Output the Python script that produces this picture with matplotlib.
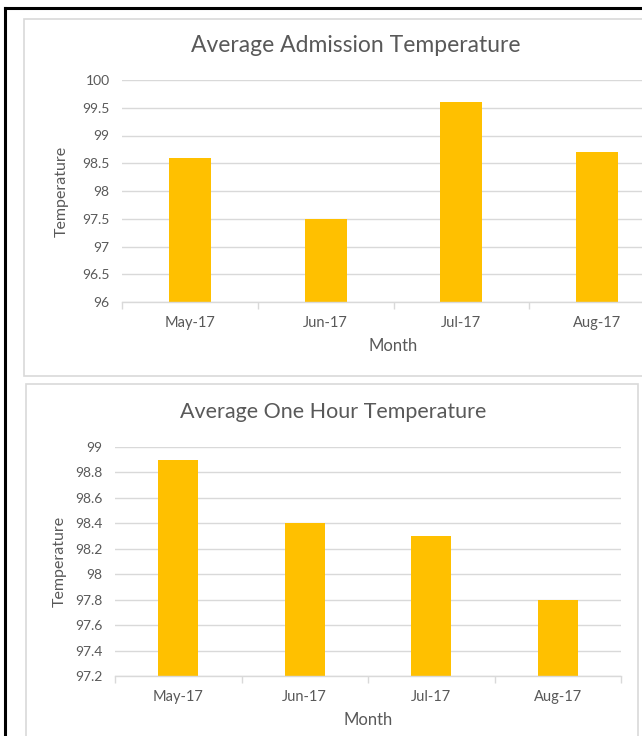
import matplotlib.pyplot as plt
from matplotlib.patches import Rectangle
from matplotlib.lines import Line2D

# data
months = ['May-17', 'Jun-17', 'Jul-17', 'Aug-17']
admission_temp = [98.6, 97.5, 99.6, 98.7]
one_hour_temp = [98.9, 98.4, 98.3, 97.8]
admission_ticks = [96, 96.5, 97, 97.5, 98, 98.5, 99, 99.5, 100]
one_hour_ticks = [97.2, 97.4, 97.6, 97.8, 98, 98.2, 98.4, 98.6, 98.8, 99]

W, H = 642, 736
BAR = '#FFC000'
GRID = '#D9D9D9'
TXT = '#595959'

plt.rcParams['font.family'] = ['Lato', 'DejaVu Sans']

fig = plt.figure(figsize=(W / 100, H / 100), dpi=100)


def px_box(x0, y0, x1, y1):
    # pixel box (top-left origin) -> figure fraction rect
    return [x0 / W, 1 - y1 / H, (x1 - x0) / W, (y1 - y0) / H]


# screenshot frame: black lines at top and left
fig.add_artist(Line2D([5 / W, 1], [1 - 8 / H, 1 - 8 / H], color='black', lw=2.2))
fig.add_artist(Line2D([5 / W, 5 / W], [0, 1 - 8 / H], color='black', lw=2.2))

# chart panels, kept behind the axes
fig.add_artist(Rectangle((24 / W, 1 - 376 / H), (700 - 24) / W, (376 - 19) / H,
                         transform=fig.transFigure, facecolor='white',
                         edgecolor=GRID, lw=1.2, zorder=-5))
fig.add_artist(Rectangle((26 / W, 1 - 760 / H), (638 - 26) / W, (760 - 384) / H,
                         transform=fig.transFigure, facecolor='white',
                         edgecolor=GRID, lw=1.2, zorder=-5))


def draw(ax, values, yticks, title, title_xy, title_size, ylab_xy, xlab_xy, width):
    x = range(len(months))
    ax.bar(x, values, width=width, color=BAR, zorder=2)
    ax.set_xlim(-0.5, len(months) - 0.5)
    ax.set_ylim(yticks[0], yticks[-1])
    ax.set_yticks(yticks)
    ax.set_yticklabels([f'{t:g}' for t in yticks])
    ax.set_xticks(list(x))
    ax.set_xticklabels(months)
    ax.set_xticks([i - 0.5 for i in range(len(months) + 1)], minor=True)
    ax.grid(axis='y', color=GRID, lw=1.0, zorder=0)
    for s in ['top', 'right', 'left']:
        ax.spines[s].set_visible(False)
    ax.spines['bottom'].set_color(GRID)
    ax.spines['bottom'].set_linewidth(1.0)
    ax.tick_params(axis='y', length=0, pad=9, labelsize=10, labelcolor=TXT)
    ax.tick_params(axis='x', which='major', length=0, pad=10, labelsize=10.5, labelcolor=TXT)
    ax.tick_params(axis='x', which='minor', length=5, color=GRID, width=1.0)
    ax.set_facecolor('none')
    fig.text(title_xy[0] / W, 1 - title_xy[1] / H, title, ha='center', va='center',
             fontsize=title_size, color=TXT)
    fig.text(ylab_xy[0] / W, 1 - ylab_xy[1] / H, 'Temperature', ha='center', va='center',
             rotation=90, fontsize=11.5, color=TXT)
    fig.text(xlab_xy[0] / W, 1 - xlab_xy[1] / H, 'Month', ha='center', va='center',
             fontsize=12, color=TXT)


ax1 = fig.add_axes(px_box(122, 80, 665, 302))
draw(ax1, admission_temp, admission_ticks, 'Average Admission Temperature',
     (356, 46), 16.5, (62, 191), (393, 346), 0.31)

ax2 = fig.add_axes(px_box(115, 447, 621, 676))
draw(ax2, one_hour_temp, one_hour_ticks, 'Average One Hour Temperature',
     (333, 412), 15.5, (60, 561), (368, 720), 0.32)

fig.savefig('out.png', dpi=100)
